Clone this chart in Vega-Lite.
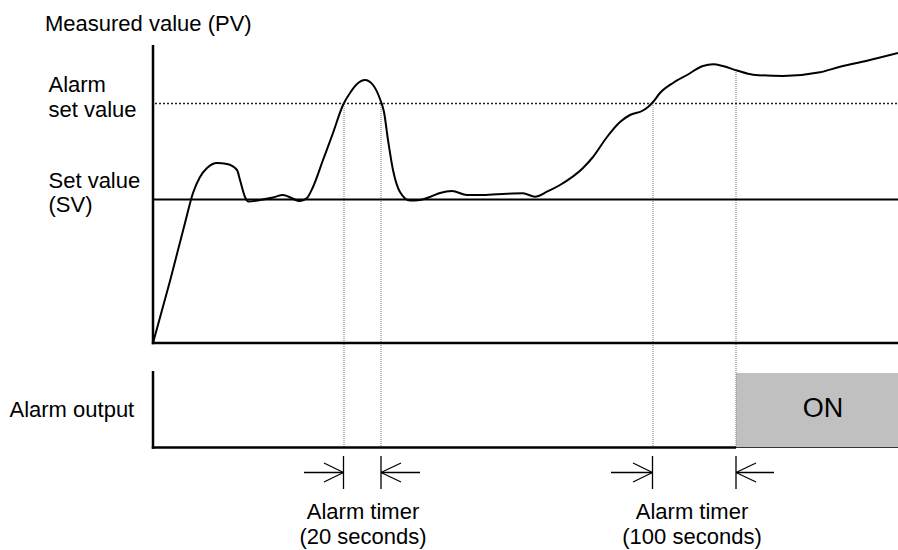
{
  "$schema": "https://vega.github.io/schema/vega-lite/v6.json",
  "width": 898,
  "height": 550,
  "autosize": {"type": "none"},
  "padding": 0,
  "background": "white",
  "config": {"view": {"stroke": null}, "font": "Liberation Sans"},
  "datasets": {
    "pv": [
      {"t": 153, "v": 343}, {"t": 170, "v": 281}, {"t": 185, "v": 223}, {"t": 193, "v": 193},
      {"t": 200, "v": 177}, {"t": 207, "v": 168}, {"t": 217, "v": 163}, {"t": 227, "v": 164},
      {"t": 237, "v": 170}, {"t": 240, "v": 180}, {"t": 245, "v": 197}, {"t": 248, "v": 201.5},
      {"t": 260, "v": 200}, {"t": 273, "v": 197.5}, {"t": 283, "v": 195}, {"t": 288, "v": 196.5},
      {"t": 300, "v": 201}, {"t": 307, "v": 198}, {"t": 313, "v": 187}, {"t": 323, "v": 160},
      {"t": 333, "v": 133}, {"t": 343, "v": 105}, {"t": 350, "v": 93}, {"t": 357, "v": 84},
      {"t": 365, "v": 80}, {"t": 373, "v": 85}, {"t": 380, "v": 99}, {"t": 384, "v": 112},
      {"t": 388, "v": 140}, {"t": 393, "v": 170}, {"t": 400, "v": 192}, {"t": 410, "v": 200.5},
      {"t": 420, "v": 200}, {"t": 430, "v": 197}, {"t": 440, "v": 193}, {"t": 452, "v": 191},
      {"t": 467, "v": 195}, {"t": 483, "v": 195}, {"t": 507, "v": 193.7}, {"t": 523, "v": 193.3},
      {"t": 535, "v": 196.7}, {"t": 547, "v": 191.7}, {"t": 560, "v": 185}, {"t": 583, "v": 168},
      {"t": 593, "v": 157}, {"t": 607, "v": 137}, {"t": 620, "v": 122}, {"t": 630, "v": 115},
      {"t": 642, "v": 111}, {"t": 648, "v": 107}, {"t": 653, "v": 102}, {"t": 660, "v": 93},
      {"t": 673, "v": 83}, {"t": 687, "v": 75}, {"t": 703, "v": 66}, {"t": 713, "v": 64.3},
      {"t": 723, "v": 66}, {"t": 737, "v": 70.5}, {"t": 753, "v": 74.7}, {"t": 783, "v": 76},
      {"t": 820, "v": 72.3}, {"t": 840, "v": 66.7}, {"t": 867, "v": 60.7}, {"t": 898, "v": 53}
    ],
    "segs": [
      {"kind": "axis", "t": 153, "v": 45, "t2": 153, "v2": 344.2},
      {"kind": "axis", "t": 151.8, "v": 343, "t2": 898, "v2": 343},
      {"kind": "axis", "t": 153, "v": 371, "t2": 153, "v2": 448.7},
      {"kind": "axis", "t": 151.8, "v": 447.5, "t2": 736, "v2": 447.5},
      {"kind": "base", "t": 736, "v": 447.5, "t2": 898, "v2": 447.5},
      {"kind": "sv", "t": 153, "v": 199.5, "t2": 898, "v2": 199.5},
      {"kind": "alarm", "t": 155, "v": 103.5, "t2": 898, "v2": 103.5},
      {"kind": "guide", "t": 344, "v": 104, "t2": 344, "v2": 447},
      {"kind": "guide", "t": 381, "v": 101, "t2": 381, "v2": 447},
      {"kind": "guide", "t": 653, "v": 103, "t2": 653, "v2": 447},
      {"kind": "guide", "t": 736, "v": 72, "t2": 736, "v2": 447},
      {"kind": "arrow", "t": 343.5, "v": 456, "t2": 343.5, "v2": 489},
      {"kind": "arrow", "t": 304, "v": 472.5, "t2": 343.5, "v2": 472.5},
      {"kind": "arrow", "t": 324, "v": 463, "t2": 343.5, "v2": 472.5},
      {"kind": "arrow", "t": 324, "v": 482, "t2": 343.5, "v2": 472.5},
      {"kind": "arrow", "t": 381, "v": 456, "t2": 381, "v2": 489},
      {"kind": "arrow", "t": 381, "v": 472.5, "t2": 420, "v2": 472.5},
      {"kind": "arrow", "t": 401, "v": 463, "t2": 381, "v2": 472.5},
      {"kind": "arrow", "t": 401, "v": 482, "t2": 381, "v2": 472.5},
      {"kind": "arrow", "t": 652.5, "v": 456, "t2": 652.5, "v2": 489},
      {"kind": "arrow", "t": 611, "v": 472.5, "t2": 652.5, "v2": 472.5},
      {"kind": "arrow", "t": 633, "v": 463, "t2": 652.5, "v2": 472.5},
      {"kind": "arrow", "t": 633, "v": 482, "t2": 652.5, "v2": 472.5},
      {"kind": "arrow", "t": 736, "v": 456, "t2": 736, "v2": 489},
      {"kind": "arrow", "t": 736, "v": 472.5, "t2": 774, "v2": 472.5},
      {"kind": "arrow", "t": 756, "v": 463, "t2": 736, "v2": 472.5},
      {"kind": "arrow", "t": 756, "v": 482, "t2": 736, "v2": 472.5}
    ],
    "on": [{"t": 736, "v": 373, "t2": 898, "v2": 447.5}],
    "labels": [
      {"kind": "left", "text": "Measured value (PV)", "t": 45, "v": 30.5},
      {"kind": "left", "text": "Alarm", "t": 48.5, "v": 92},
      {"kind": "left", "text": "set value", "t": 48.5, "v": 116.5},
      {"kind": "left", "text": "Set value", "t": 48.5, "v": 187.5},
      {"kind": "left", "text": "(SV)", "t": 48.5, "v": 211.5},
      {"kind": "left", "text": "Alarm output", "t": 9.5, "v": 416.5},
      {"kind": "center", "text": "Alarm timer", "t": 363, "v": 519},
      {"kind": "center", "text": "(20 seconds)", "t": 363, "v": 544},
      {"kind": "center", "text": "Alarm timer", "t": 692, "v": 519},
      {"kind": "center", "text": "(100 seconds)", "t": 692, "v": 544},
      {"kind": "on", "text": "ON", "t": 823, "v": 416.5}
    ]
  },
  "layer": [
    {
      "data": {"name": "on"},
      "mark": {"type": "rect", "color": "#c0c0c0"},
      "encoding": {
        "x": {"field": "t", "type": "quantitative", "scale": {"domain": [0, 898], "nice": false, "zero": false}, "axis": null},
        "x2": {"field": "t2"},
        "y": {"field": "v", "type": "quantitative", "scale": {"domain": [0, 550], "nice": false, "zero": false, "reverse": true}, "axis": null},
        "y2": {"field": "v2"}
      }
    },
    {
      "data": {"name": "segs"},
      "transform": [{"filter": "datum.kind === 'guide'"}],
      "mark": {"type": "rule", "color": "#7a7a7a", "strokeWidth": 1, "strokeDash": [1, 1]},
      "encoding": {
        "x": {"field": "t", "type": "quantitative"},
        "x2": {"field": "t2"},
        "y": {"field": "v", "type": "quantitative"},
        "y2": {"field": "v2"}
      }
    },
    {
      "data": {"name": "segs"},
      "transform": [{"filter": "datum.kind === 'alarm'"}],
      "mark": {"type": "rule", "color": "#222222", "strokeWidth": 1.4, "strokeDash": [2, 2]},
      "encoding": {
        "x": {"field": "t", "type": "quantitative"},
        "x2": {"field": "t2"},
        "y": {"field": "v", "type": "quantitative"},
        "y2": {"field": "v2"}
      }
    },
    {
      "data": {"name": "segs"},
      "transform": [{"filter": "datum.kind === 'sv'"}],
      "mark": {"type": "rule", "color": "#000000", "strokeWidth": 2},
      "encoding": {
        "x": {"field": "t", "type": "quantitative"},
        "x2": {"field": "t2"},
        "y": {"field": "v", "type": "quantitative"},
        "y2": {"field": "v2"}
      }
    },
    {
      "data": {"name": "segs"},
      "transform": [{"filter": "datum.kind === 'base'"}],
      "mark": {"type": "rule", "color": "#333333", "strokeWidth": 1},
      "encoding": {
        "x": {"field": "t", "type": "quantitative"},
        "x2": {"field": "t2"},
        "y": {"field": "v", "type": "quantitative"},
        "y2": {"field": "v2"}
      }
    },
    {
      "data": {"name": "segs"},
      "transform": [{"filter": "datum.kind === 'axis'"}],
      "mark": {"type": "rule", "color": "#000000", "strokeWidth": 2.5},
      "encoding": {
        "x": {"field": "t", "type": "quantitative"},
        "x2": {"field": "t2"},
        "y": {"field": "v", "type": "quantitative"},
        "y2": {"field": "v2"}
      }
    },
    {
      "data": {"name": "segs"},
      "transform": [{"filter": "datum.kind === 'arrow'"}],
      "mark": {"type": "rule", "color": "#000000", "strokeWidth": 1.3},
      "encoding": {
        "x": {"field": "t", "type": "quantitative"},
        "x2": {"field": "t2"},
        "y": {"field": "v", "type": "quantitative"},
        "y2": {"field": "v2"}
      }
    },
    {
      "data": {"name": "pv"},
      "mark": {"type": "line", "color": "#000000", "strokeWidth": 2, "interpolate": "monotone"},
      "encoding": {
        "x": {"field": "t", "type": "quantitative"},
        "y": {"field": "v", "type": "quantitative"},
        "order": {"field": "t", "type": "quantitative"}
      }
    },
    {
      "data": {"name": "labels"},
      "transform": [{"filter": "datum.kind === 'left'"}],
      "mark": {"type": "text", "align": "left", "baseline": "alphabetic", "fontSize": 22, "color": "#000000", "font": "Liberation Sans"},
      "encoding": {
        "x": {"field": "t", "type": "quantitative"},
        "y": {"field": "v", "type": "quantitative"},
        "text": {"field": "text"}
      }
    },
    {
      "data": {"name": "labels"},
      "transform": [{"filter": "datum.kind === 'center'"}],
      "mark": {"type": "text", "align": "center", "baseline": "alphabetic", "fontSize": 22, "color": "#000000", "font": "Liberation Sans"},
      "encoding": {
        "x": {"field": "t", "type": "quantitative"},
        "y": {"field": "v", "type": "quantitative"},
        "text": {"field": "text"}
      }
    },
    {
      "data": {"name": "labels"},
      "transform": [{"filter": "datum.kind === 'on'"}],
      "mark": {"type": "text", "align": "center", "baseline": "alphabetic", "fontSize": 27, "color": "#000000", "font": "Liberation Sans"},
      "encoding": {
        "x": {"field": "t", "type": "quantitative"},
        "y": {"field": "v", "type": "quantitative"},
        "text": {"field": "text"}
      }
    }
  ]
}
